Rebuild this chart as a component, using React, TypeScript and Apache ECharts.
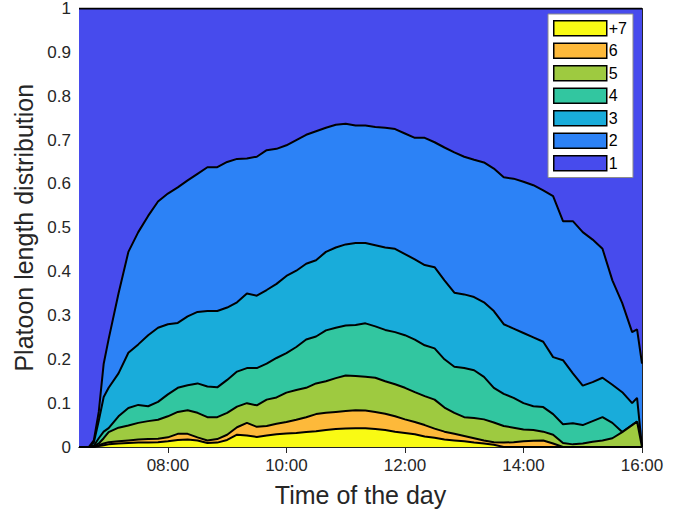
import React, { useEffect, useRef } from "react";
import * as echarts from "echarts";

// Time of day in minutes since midnight
const times = [390, 400, 405, 410, 415, 420, 430, 440, 450, 460, 470, 480, 490, 500, 510, 520, 530, 540, 550, 560, 570, 580, 590, 600, 610, 620, 630, 640, 650, 660, 670, 680, 690, 700, 710, 720, 730, 740, 750, 760, 770, 780, 790, 800, 810, 820, 830, 840, 850, 860, 870, 880, 890, 900, 910, 920, 930, 940, 950, 955, 960];

// Cumulative boundaries (top edge of each band)
const top1 = [1, 1, 1, 1, 1, 1, 1, 1, 1, 1, 1, 1, 1, 1, 1, 1, 1, 1, 1, 1, 1, 1, 1, 1, 1, 1, 1, 1, 1, 1, 1, 1, 1, 1, 1, 1, 1, 1, 1, 1, 1, 1, 1, 1, 1, 1, 1, 1, 1, 1, 1, 1, 1, 1, 1, 1, 1, 1, 1, 1, 1];
const top2 = [0, 0, 0.015, 0.08, 0.19, 0.246, 0.35, 0.445, 0.49, 0.527, 0.56, 0.578, 0.592, 0.608, 0.623, 0.638, 0.638, 0.65, 0.657, 0.658, 0.662, 0.677, 0.68, 0.688, 0.7, 0.712, 0.72, 0.728, 0.735, 0.737, 0.733, 0.733, 0.73, 0.728, 0.725, 0.715, 0.705, 0.705, 0.695, 0.683, 0.672, 0.662, 0.655, 0.649, 0.635, 0.615, 0.612, 0.605, 0.597, 0.585, 0.572, 0.515, 0.515, 0.49, 0.473, 0.452, 0.38, 0.328, 0.262, 0.268, 0.19];
const top3 = [0, 0, 0.01, 0.06, 0.114, 0.135, 0.168, 0.215, 0.234, 0.255, 0.272, 0.28, 0.283, 0.298, 0.308, 0.31, 0.31, 0.318, 0.33, 0.35, 0.345, 0.358, 0.372, 0.39, 0.402, 0.418, 0.426, 0.445, 0.455, 0.462, 0.465, 0.465, 0.46, 0.455, 0.452, 0.44, 0.428, 0.415, 0.41, 0.38, 0.352, 0.348, 0.342, 0.33, 0.31, 0.28, 0.27, 0.26, 0.25, 0.24, 0.205, 0.198, 0.168, 0.14, 0.148, 0.158, 0.142, 0.125, 0.1, 0.112, 0];
const top4 = [0, 0, 0.003, 0.02, 0.035, 0.043, 0.07, 0.089, 0.096, 0.093, 0.103, 0.12, 0.135, 0.141, 0.145, 0.138, 0.136, 0.153, 0.172, 0.18, 0.18, 0.19, 0.203, 0.214, 0.228, 0.245, 0.252, 0.266, 0.272, 0.277, 0.278, 0.282, 0.275, 0.267, 0.262, 0.255, 0.245, 0.232, 0.225, 0.2, 0.183, 0.18, 0.175, 0.16, 0.135, 0.121, 0.112, 0.1, 0.093, 0.091, 0.075, 0.052, 0.054, 0.05, 0.059, 0.068, 0.055, 0.034, 0.05, 0.058, 0];
const top5 = [0, 0, 0.002, 0.008, 0.02, 0.034, 0.044, 0.049, 0.055, 0.059, 0.062, 0.07, 0.08, 0.084, 0.078, 0.068, 0.068, 0.078, 0.092, 0.1, 0.095, 0.108, 0.113, 0.124, 0.13, 0.135, 0.145, 0.15, 0.157, 0.163, 0.162, 0.16, 0.158, 0.15, 0.143, 0.135, 0.125, 0.116, 0.108, 0.09, 0.078, 0.068, 0.066, 0.063, 0.056, 0.048, 0.044, 0.04, 0.039, 0.035, 0.028, 0.009, 0.006, 0.008, 0.012, 0.015, 0.02, 0.034, 0.05, 0.058, 0];
const top6 = [0, 0, 0.001, 0.004, 0.008, 0.011, 0.013, 0.015, 0.017, 0.018, 0.019, 0.022, 0.03, 0.03, 0.022, 0.015, 0.018, 0.028, 0.045, 0.055, 0.046, 0.048, 0.053, 0.057, 0.062, 0.068, 0.075, 0.078, 0.08, 0.082, 0.084, 0.083, 0.08, 0.076, 0.07, 0.063, 0.057, 0.05, 0.042, 0.035, 0.03, 0.025, 0.02, 0.015, 0.011, 0.01, 0.011, 0.013, 0.014, 0.015, 0.008, 0, 0, 0, 0, 0, 0, 0, 0, 0, 0];
const top7 = [0, 0, 0, 0.002, 0.004, 0.006, 0.008, 0.009, 0.01, 0.01, 0.011, 0.013, 0.016, 0.017, 0.015, 0.009, 0.01, 0.016, 0.028, 0.026, 0.023, 0.026, 0.029, 0.031, 0.032, 0.034, 0.036, 0.039, 0.041, 0.042, 0.043, 0.043, 0.041, 0.039, 0.035, 0.032, 0.029, 0.024, 0.021, 0.017, 0.015, 0.013, 0.01, 0.008, 0.005, 0, 0, 0, 0, 0, 0, 0, 0, 0, 0, 0, 0, 0, 0, 0, 0];

const bandNames = ["1", "2", "3", "4", "5", "6", "+7"];
const bandTops = [top1, top2, top3, top4, top5, top6, top7];
const bandColors = ["#474BED", "#2C82F6", "#19ACDA", "#32C6A0", "#9ECA40", "#FDB93A", "#F9FA14"];
const legendOrder = ["+7", "6", "5", "4", "3", "2", "1"];

const xTickValues = [480, 600, 720, 840, 960];
const yTickValues = [0, 0.1, 0.2, 0.3, 0.4, 0.5, 0.6, 0.7, 0.8, 0.9, 1];

const FONT = "'Liberation Sans', Arial, Helvetica, sans-serif";
const AXIS_COLOR = "#262626";

function fmtTime(m: number) {
  const h = Math.floor(m / 60);
  const mm = m % 60;
  return `${String(h).padStart(2, "0")}:${String(mm).padStart(2, "0")}`;
}

export default function App() {
  const ref = useRef<HTMLDivElement>(null);

  useEffect(() => {
    if (!ref.current) return;
    const chart = echarts.init(ref.current, undefined, { renderer: "svg" });

    const series = bandNames.map((name, k) => ({
      name,
      type: "line",
      data: times.map((t, i) => [t, bandTops[k][i]]),
      showSymbol: false,
      symbol: "none",
      lineStyle: { color: "#000", width: 2 },
      itemStyle: { color: bandColors[k] },
      areaStyle: { color: bandColors[k], opacity: 1, origin: "start" },
      z: 2 + k,
      silent: true,
    }));

    const xCommon = {
      type: "value",
      min: 390,
      max: 960,
      axisLine: { show: true, lineStyle: { color: AXIS_COLOR, width: 1 } },
      splitLine: { show: false },
    };
    const yCommon = {
      type: "value",
      min: 0,
      max: 1,
      interval: 0.1,
      axisLine: { show: true, lineStyle: { color: AXIS_COLOR, width: 1 } },
      splitLine: { show: false },
    };

    chart.setOption({
      animation: false,
      backgroundColor: "#ffffff",
      grid: { left: 79, right: 47, top: 8, bottom: 67, containLabel: false },
      legend: {
        data: legendOrder,
        orient: "vertical",
        left: 548,
        top: 14,
        icon: "rect",
        itemWidth: 53,
        itemHeight: 15,
        itemGap: 6,
        padding: [6, 6, 6, 5],
        backgroundColor: "#ffffff",
        borderColor: "#8c8c8c",
        borderWidth: 1,
        borderRadius: 0,
        itemStyle: { borderColor: "#000", borderWidth: 1.5 },
        textStyle: { fontFamily: FONT, fontSize: 16, color: "#000", padding: [0, 0, 0, -3] },
        selectedMode: false,
        z: 20,
      },
      xAxis: [
        {
          ...xCommon,
          position: "bottom",
          name: "Time of the day",
          nameLocation: "middle",
          nameGap: 35,
          nameTextStyle: { fontFamily: FONT, fontSize: 25, color: AXIS_COLOR },
          axisTick: { show: true, inside: true, length: 6, customValues: xTickValues, lineStyle: { color: AXIS_COLOR } },
          axisLabel: {
            show: true,
            customValues: xTickValues,
            formatter: (v: number) => fmtTime(v),
            fontFamily: FONT,
            fontSize: 17,
            color: AXIS_COLOR,
            margin: 10,
          },
        },
        {
          ...xCommon,
          position: "top",
          axisTick: { show: true, inside: true, length: 6, customValues: xTickValues, lineStyle: { color: AXIS_COLOR } },
          axisLabel: { show: false },
        },
      ],
      yAxis: [
        {
          ...yCommon,
          position: "left",
          name: "Platoon length distribution",
          nameLocation: "middle",
          nameGap: 39,
          nameTextStyle: { fontFamily: FONT, fontSize: 25, color: AXIS_COLOR },
          axisTick: { show: true, inside: true, length: 6, lineStyle: { color: AXIS_COLOR } },
          axisLabel: {
            show: true,
            fontFamily: FONT,
            fontSize: 17,
            color: AXIS_COLOR,
            margin: 8,
            customValues: yTickValues,
          },
        },
        {
          ...yCommon,
          position: "right",
          axisTick: { show: true, inside: true, length: 6, lineStyle: { color: AXIS_COLOR } },
          axisLabel: { show: false },
        },
      ],
      series,
    });

    return () => {
      chart.dispose();
    };
  }, []);

  return (
    <div
      ref={ref}
      style={{ position: "fixed", left: 0, top: 0, width: 689, height: 514 }}
    />
  );
}
